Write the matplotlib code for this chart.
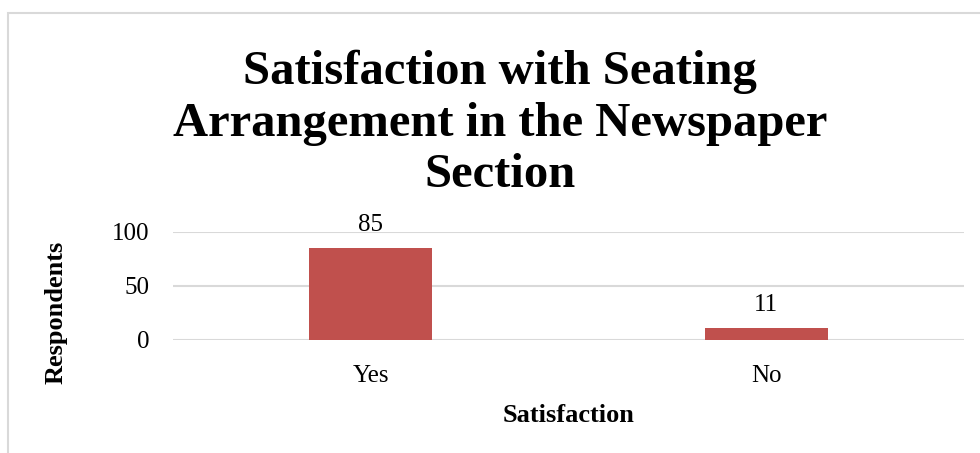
import matplotlib
matplotlib.use("Agg")
import matplotlib.pyplot as plt
from matplotlib.patches import Rectangle

plt.rcParams["font.family"] = ["Liberation Serif", "DejaVu Serif"]

# datos del grafico
categorias = ["Yes", "No"]
respuestas = [85, 11]
marcas_y = [0, 50, 100]

fig = plt.figure(figsize=(9.8, 4.53), dpi=100)

# marco gris del area del grafico
fig.patches.append(Rectangle((8 / 980, -0.1), 1.2, 1 - 13 / 453 + 0.1,
                             transform=fig.transFigure, fill=False,
                             edgecolor="#d9d9d9", linewidth=1.5))

ax = fig.add_axes([173 / 980, 1 - 340 / 453, 791 / 980, 108 / 453])

x = range(len(categorias))
barras = ax.bar(x, respuestas, width=0.31, color="#C0504D", zorder=3)
for b, v in zip(barras, respuestas):
    ax.text(b.get_x() + b.get_width() / 2, v + 11, str(v),
            ha="center", va="bottom", fontsize=18)

ax.set_xlim(-0.5, 1.5)
ax.set_ylim(0, 100)
ax.set_yticks(marcas_y)
ax.set_xticks(list(x))
ax.set_xticklabels(categorias)
ax.tick_params(axis="both", length=0, labelsize=18)
ax.tick_params(axis="x", pad=18)
ax.tick_params(axis="y", pad=17)
ax.yaxis.grid(True, color="#d9d9d9", linewidth=1.5, zorder=0)
for s in ax.spines.values():
    s.set_visible(False)

ax.set_xlabel("Satisfaction", fontsize=19, fontweight="bold", labelpad=12)
ax.set_ylabel("Respondents", fontsize=19, fontweight="bold")
# el titulo del eje y va algo mas abajo que el centro del area
ax.yaxis.set_label_coords(-0.133, 0.26)

# titulo en tres lineas, anclado a la linea base de la ultima
fig.text(0.51, 1 - 187 / 453,
         "Satisfaction with Seating\nArrangement in the Newspaper\nSection",
         ha="center", va="baseline", fontsize=35, fontweight="bold",
         linespacing=1.22)

fig.savefig("out.png", dpi=100)
